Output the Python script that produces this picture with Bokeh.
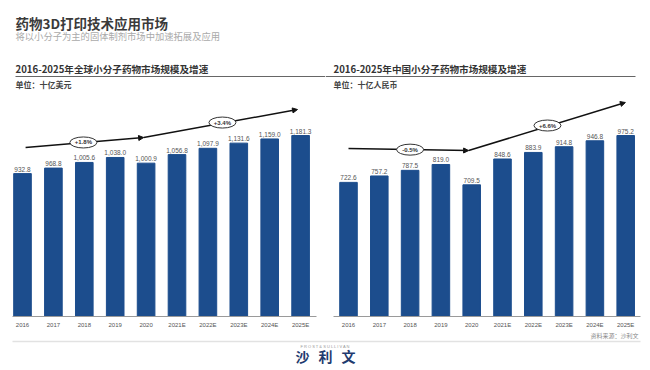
from bokeh.plotting import figure
from bokeh.layouts import column, row
from bokeh.models import Range1d, FixedTicker, Arrow, NormalHead
from bokeh.core.properties import value
from bokeh.embed import file_html
from bokeh.resources import INLINE

# ---------------- data ----------------
years = ["2016", "2017", "2018", "2019", "2020", "2021E", "2022E", "2023E", "2024E", "2025E"]
global_vals = [932.8, 968.8, 1005.6, 1038.0, 1000.9, 1056.8, 1097.9, 1131.6, 1159.0, 1181.3]
china_vals = [722.6, 757.2, 787.5, 819.0, 709.5, 848.6, 883.9, 914.8, 946.8, 975.2]
global_growth = ["+1.8%", "+3.4%"]
china_growth = ["-0.5%", "+6.6%"]

main_title = "药物3D打印技术应用市场"
sub_title = "将以小分子为主的固体制剂市场中加速拓展及应用"
global_title = "2016-2025年全球小分子药物市场规模及增速"
china_title = "2016-2025年中国小分子药物市场规模及增速"
global_unit = "单位：十亿美元"
china_unit = "单位：十亿人民币"
source_text = "资料来源：沙利文"

CJK = value("Noto Sans CJK SC")
LAT = value("Liberation Sans")
BAR = "#1c4d8d"


def fmt(v):
    return f"{v:,.1f}"


def make_panel(vals, title, unit, growth, page_left, width, bar0_px, step_px,
               scale, arrow_pts, bubble_pos, axis_px, line_px, text_px):
    # page geometry: panel top at page y 58, baseline at page y 316
    H = 272
    frame_h = 260
    xl = (page_left - bar0_px) / step_px
    xr = (page_left + width - bar0_px) / step_px
    ystart = -2 / scale
    ytop = ystart + frame_h / scale

    def dx(px):
        return (px - bar0_px) / step_px

    def dy(py):
        return (316 - py) / scale

    p = figure(width=width, height=H, x_range=Range1d(xl, xr), y_range=Range1d(ystart, ytop),
               output_backend="svg", toolbar_location=None, y_axis_location=None,
               min_border_left=0, min_border_right=0, min_border_top=0, min_border_bottom=12)
    p.outline_line_color = None
    p.grid.visible = False
    p.background_fill_color = "white"
    p.border_fill_color = "white"

    idx = list(range(len(vals)))
    p.vbar(x=idx, top=vals, width=0.57, color=BAR)
    p.text(x=idx, y=vals, text=[fmt(v) for v in vals], text_font=LAT, text_font_size="6.5px",
           text_color="#555555", text_align="center", text_baseline="bottom", y_offset=-2)

    # baseline
    p.line(x=[dx(axis_px[0]), dx(axis_px[1])], y=[0, 0], line_color="#9a9a9a", line_width=1)

    # titles
    p.text(x=[dx(text_px)], y=[dy(68)], text=[title],
           text_font=CJK, text_font_size="9.6px", text_font_style="bold",
           text_color="#333333", text_align="left", text_baseline="middle")
    p.line(x=[dx(line_px[0]), dx(line_px[1])], y=[dy(76), dy(76)], line_color="#666666", line_width=1.2)
    p.text(x=[dx(text_px)], y=[dy(84)], text=[unit],
           text_font=CJK, text_font_size="8px", text_font_style="bold",
           text_color="#444444", text_align="left", text_baseline="middle")

    # growth arrows (under the bubbles)
    (x0, y0), (x1, y1), (x2, y2) = arrow_pts
    for (a, b, c, d) in [(x0, y0, x1, y1), (x1, y1, x2, y2)]:
        p.add_layout(Arrow(end=NormalHead(size=5, fill_color="#111111", line_color="#111111"),
                           x_start=a, y_start=b, x_end=c, y_end=d, level="underlay",
                           line_color="#111111", line_width=1.5))
    bx = [b[0] for b in bubble_pos]
    by = [b[1] for b in bubble_pos]
    p.ellipse(x=bx, y=by, width=27, height=11, width_units="screen", height_units="screen",
              fill_color="white", line_color="#333333", line_width=1)
    p.text(x=bx, y=by, text=growth, text_font=LAT, text_font_size="6px", text_font_style="bold",
           text_color="#333333", text_align="center", text_baseline="middle")

    p.xaxis.ticker = FixedTicker(ticks=idx)
    p.xaxis.major_label_overrides = {i: y for i, y in enumerate(years)}
    p.xaxis.axis_line_color = None
    p.xaxis.major_tick_line_color = None
    p.xaxis.minor_tick_line_color = None
    p.xaxis.major_tick_out = 0
    p.xaxis.major_tick_in = 0
    p.xaxis.major_label_standoff = 3
    p.xaxis.major_label_text_font = "Liberation Sans"
    p.xaxis.major_label_text_font_size = "6px"
    p.xaxis.major_label_text_color = "#555555"
    return p


left = make_panel(global_vals, global_title, global_unit, global_growth,
                  page_left=0, width=325, bar0_px=22, step_px=30.9, scale=0.1532,
                  arrow_pts=[(0.1, 1103), (3.92, 1168), (8.9, 1351)],
                  bubble_pos=[(1.97, 1136), (6.47, 1266)],
                  axis_px=(12, 316), line_px=(15, 325), text_px=15)
right = make_panel(china_vals, china_title, china_unit, china_growth,
                   page_left=325, width=325, bar0_px=348, step_px=30.8, scale=0.1856,
                   arrow_pts=[(0.0, 905), (3.9, 894), (8.99, 1153)],
                   bubble_pos=[(2.0, 899), (6.46, 1029)],
                   axis_px=(333, 640), line_px=(325, 635), text_px=333)

# header
header = figure(width=650, height=58, x_range=Range1d(0, 650), y_range=Range1d(58, 0),
                output_backend="svg", toolbar_location=None, x_axis_location=None,
                y_axis_location=None, min_border=0)
header.outline_line_color = None
header.grid.visible = False
header.text(x=[15], y=[22], text=[main_title], text_font=CJK, text_font_size="13.5px",
            text_font_style="bold", text_color="#3a3a3a", text_align="left", text_baseline="middle")
header.text(x=[15], y=[35], text=[sub_title], text_font=CJK, text_font_size="9.3px",
            text_color="#aaaaaa", text_align="left", text_baseline="middle")

# footer
footer = figure(width=650, height=38, x_range=Range1d(0, 650), y_range=Range1d(38, 0),
                output_backend="svg", toolbar_location=None, x_axis_location=None,
                y_axis_location=None, min_border=0)
footer.outline_line_color = None
footer.grid.visible = False
footer.text(x=[638], y=[4.5], text=[source_text], text_font=CJK, text_font_size="6px",
            text_color="#888888", text_align="right", text_baseline="middle")
footer.line(x=[12, 640], y=[11, 11], line_color="#e2e2e2", line_width=1.5)
footer.text(x=[326], y=[15.5], text=["F R O S T  &  S U L L I V A N"], text_font=LAT,
            text_font_size="4px", text_color="#999999", text_align="center", text_baseline="middle")
footer.text(x=[302, 325, 348], y=[25, 25, 25], text=["沙", "利", "文"], text_font=CJK,
            text_font_size="14px", text_font_style="bold", text_color="#1f3b6f",
            text_align="center", text_baseline="middle")

layout = column(header, row(left, right), footer)
open("out.html", "w").write(file_html(layout, INLINE))
